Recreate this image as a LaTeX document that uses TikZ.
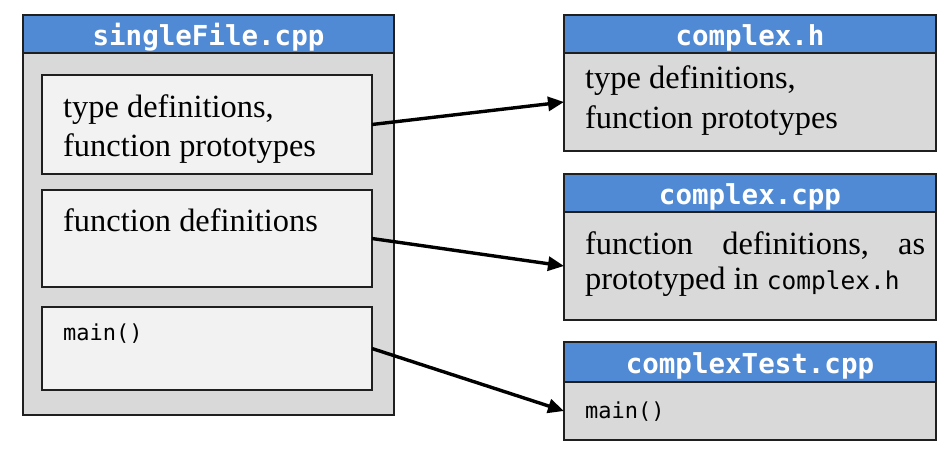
\documentclass[tikz,border=0pt]{standalone}
\usepackage{fontspec}
\setmainfont{Liberation Serif}
\setmonofont{DejaVu Sans Mono}
\usetikzlibrary{arrows.meta}
\definecolor{hdrblue}{RGB}{80,138,212}
\definecolor{outergray}{RGB}{217,217,217}
\definecolor{innergray}{RGB}{242,242,242}
\begin{document}
\begin{tikzpicture}[x=1pt,y=-1pt,
  frame/.style={draw=black!88, line width=1.9pt, anchor=north west, inner sep=0pt, outer sep=0pt, rectangle},
  hdr/.style={frame, fill=hdrblue, minimum height=38pt},
  hdrtext/.style={anchor=base, inner sep=0pt, text=white, font=\fontsize{27.5pt}{30pt}\ttfamily\bfseries},
  serif/.style={anchor=base west, inner sep=0pt, font=\fontsize{32.4pt}{39pt}\selectfont},
  code/.style={anchor=base west, inner sep=0pt, font=\fontsize{22pt}{26pt}\ttfamily},
  arrow/.style={line width=3.4pt, -{Triangle[length=16pt,width=14pt]}}]
\useasboundingbox (0,0) rectangle (945,453);
% left file
\node[frame, fill=outergray, minimum width=371pt, minimum height=400pt] (single) at (23,15) {};
\node[hdr, minimum width=371pt] (singlehdr) at (23,15) {};
\node[hdrtext] (singlet) at (208.5,45) {singleFile.cpp};
\node[frame, fill=innergray, minimum width=330pt, minimum height=99pt] (b1) at (42,75) {};
\node[frame, fill=innergray, minimum width=330pt, minimum height=97pt] (b2) at (42,190) {};
\node[frame, fill=innergray, minimum width=330pt, minimum height=83pt] (b3) at (42,307) {};
\node[serif] (b1t1) at (63,117) {type definitions,};
\node[serif] (b1t2) at (63,156) {function prototypes};
\node[serif] (b2t) at (63,231) {function definitions};
\node[code] (b3t) at (63,340) {main()};
% complex.h
\node[frame, fill=outergray, minimum width=372pt, minimum height=98pt] (hbody) at (564,53) {};
\node[hdr, minimum width=372pt] (hhdr) at (564,15) {};
\node[hdrtext] (ht) at (750,45) {complex.h};
\node[serif] (ht1) at (585,88) {type definitions,};
\node[serif] (ht2) at (585,128) {function prototypes};
% complex.cpp
\node[frame, fill=outergray, minimum width=372pt, minimum height=108pt] (cbody) at (564,212) {};
\node[hdr, minimum width=372pt] (chdr) at (564,174) {};
\node[hdrtext] (ct) at (750,204) {complex.cpp};
\node[serif] (ct1) at (585,254) {\hbox to 340pt{function\hfil definitions,\hfil as}};
\node[serif] (ct2) at (585,289) {prototyped in {\fontsize{24.5pt}{28pt}\ttfamily complex.h}};
% complexTest.cpp
\node[frame, fill=outergray, minimum width=372pt, minimum height=58pt] (tbody) at (564,382) {};
\node[hdr, minimum width=372pt, minimum height=40pt] (thdr) at (564,342) {};
\node[hdrtext] (tt) at (750,373) {complexTest.cpp};
\node[code] (tt1) at (585,418) {main()};
% connectors
\draw[arrow] (b1.east) -- (hbody.west);
\draw[arrow] (b2.east) -- (cbody.west);
\draw[arrow] (b3.east) -- (tbody.west);
\end{tikzpicture}
\end{document}
